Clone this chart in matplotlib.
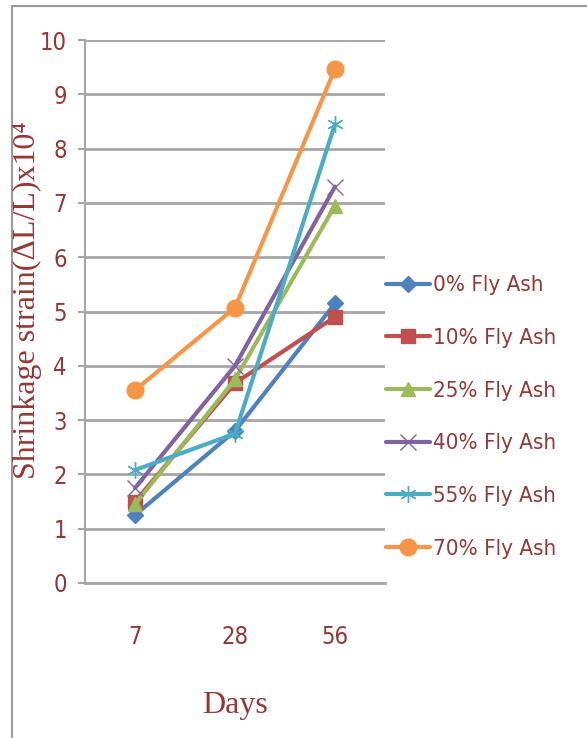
import matplotlib
matplotlib.use("Agg")
import matplotlib.pyplot as plt
from matplotlib import font_manager as fm
from matplotlib.patches import Rectangle

# Curing age categories and shrinkage readings (x10^-4)
days = ["7", "28", "56"]
series_names = ["0% Fly Ash", "10% Fly Ash", "25% Fly Ash",
                "40% Fly Ash", "55% Fly Ash", "70% Fly Ash"]
fa0 = [1.25, 2.80, 5.15]
fa10 = [1.50, 3.68, 4.90]
fa25 = [1.45, 3.75, 6.95]
fa40 = [1.75, 4.00, 7.30]
fa55 = [2.08, 2.75, 8.45]
fa70 = [3.55, 5.07, 9.47]
yticks = list(range(0, 11))

series_values = [fa0, fa10, fa25, fa40, fa55, fa70]
colors = ["#4F81BD", "#C0504D", "#9BBB59", "#8064A2", "#4BACC6", "#F79646"]
markers = ["D", "s", "^", "x", (6, 2, 0), "o"]
msizes = [8, 10, 10, 11, 12, 12]
text_red = "#953735"
grid_gray = "#A6A6A6"

tick_font = fm.FontProperties(family="DejaVu Sans", stretch="condensed", size=17)
leg_font = fm.FontProperties(family="DejaVu Sans", stretch="condensed", size=16)
serif = ["Liberation Serif", "DejaVu Serif"]

W, H = 587, 738
fig = plt.figure(figsize=(W / 100, H / 100), dpi=100)

# outer frame
fig.patches.append(Rectangle((12 / W, -0.1), 1.2, 1.1 - 6 / H,
                             transform=fig.transFigure, fill=False,
                             edgecolor="#9A9A9A", lw=1.5))

ax = fig.add_axes([85 / W, 1 - 583 / H, 300 / W, 543 / H])
x = list(range(len(days)))
for name, vals, c, m, ms in zip(series_names, series_values, colors,
                                markers, msizes):
    ax.plot(x, vals, color=c, lw=3, marker=m, markersize=ms,
            markerfacecolor=c, markeredgecolor=c, markeredgewidth=1,
            label=name, solid_capstyle="round")

ax.set_xlim(-0.5, 2.5)
ax.set_ylim(0, 10)
ax.set_yticks(yticks)
ax.set_yticklabels([str(t) for t in yticks], fontproperties=tick_font,
                   color=text_red)
ax.set_xticks(x)
ax.set_xticklabels(days, fontproperties=tick_font, color=text_red)
ax.tick_params(axis="y", length=5, width=1.5, color=grid_gray, pad=8)
ax.tick_params(axis="x", length=0, pad=30)
ax.grid(axis="y", color=grid_gray, lw=2)
ax.set_axisbelow(True)
for s in ("top", "right"):
    ax.spines[s].set_visible(False)
ax.spines["left"].set_color(grid_gray)
ax.spines["left"].set_linewidth(1.5)
ax.spines["bottom"].set_color(grid_gray)
ax.spines["bottom"].set_linewidth(2)

fig.text(27 / W, 1 - 300 / H, "Shrinkage strain(\u0394L/L)x10\u2074",
         rotation=90, ha="center", va="center", fontfamily=serif,
         fontsize=23, color=text_red)
fig.text(235 / W, 1 - 705 / H, "Days", ha="center", va="center",
         fontfamily=serif, fontsize=23, color=text_red)

ax.legend(loc="center left", bbox_to_anchor=(386 / W, 1 - 417 / H),
          bbox_transform=fig.transFigure, frameon=False,
          prop=leg_font, labelcolor=text_red,
          handlelength=2.0, handletextpad=0.1, labelspacing=1.47,
          borderaxespad=0, borderpad=0)

fig.savefig("out.png", dpi=100)
